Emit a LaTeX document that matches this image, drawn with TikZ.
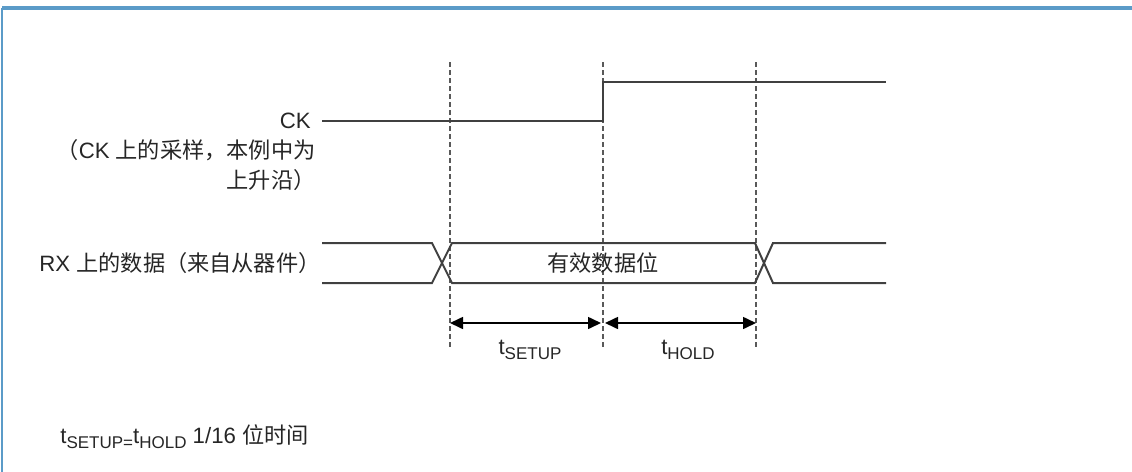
\documentclass[tikz,border=0pt]{standalone}
\usepackage{fontspec}
\setmainfont{Liberation Sans}
\newfontfamily\cjk{Noto Sans CJK SC}
\usetikzlibrary{arrows.meta,positioning,calc}
\definecolor{sigline}{HTML}{404040}
\definecolor{frameblue}{HTML}{5B9BC8}
\newcommand{\zh}[1]{{\cjk #1}}
\newcommand{\subtxt}[1]{\raisebox{-0.4ex}{\fontsize{8.5}{9}\selectfont #1}}

\begin{document}
\begin{tikzpicture}[
  x=0.5pt, y=-0.5pt,
  lbl/.style={inner sep=0pt, font=\fontsize{11.1}{15}\selectfont, text=black!85},
  sig/.style={draw=sigline, line width=1pt},
  guide/.style={draw=gray!70!black, line width=0.9pt, dash pattern=on 2.5pt off 1.5pt},
  dim/.style={{Triangle[length=6.5pt,width=6pt]}-{Triangle[length=6.5pt,width=6pt]}, draw=black, line width=0.8pt}
]
  \useasboundingbox (0,0) rectangle (1132,472);
  % frame
  \draw[frameblue, line width=1.6pt] (2,8) -- (1132,8);
  \draw[frameblue, line width=0.6pt] (2,8) -- (2,472);

  % guide lines
  \foreach \x in {450,603,756}
    \draw[guide] (\x,62) -- (\x,348);

  % CK
  \coordinate (ckstart) at (322,121);
  \coordinate (ckrise) at (603,121);
  \coordinate (ckend) at (886,82);
  \draw[sig] (ckstart) -- (ckrise) |- (ckend);
  \node[lbl, anchor=east] (cklbl) at (311,121) {CK};
  \node[lbl, anchor=north east, align=right] (ckinfo) at (316,139)
    {\zh{（}CK \zh{上的采样，本例中为}\\\zh{上升沿）}};

  % RX data
  \coordinate (rxtop) at (322,243);
  \coordinate (rxbot) at (322,283);
  \draw[sig] (rxtop) -- (432,243) -- (452,283) -- (755,283) -- (773,243) -- (886,243);
  \draw[sig] (rxbot) -- (432,283) -- (452,243) -- (755,243) -- (773,283) -- (886,283);
  \node[lbl, anchor=east] (rxlbl) at (321,263) {RX \zh{上的数据（来自从器件）}};
  \node[lbl] (valid) at (603,263) {\zh{有效数据位}};

  % setup / hold
  \coordinate (sua) at (450,323);
  \coordinate (sub) at (601,323);
  \coordinate (hda) at (605,323);
  \coordinate (hdb) at (756,323);
  \draw[dim] (sua) -- (sub);
  \draw[dim] (hda) -- (hdb);
  \node[lbl] (tsu) at (530,350) {t\subtxt{SETUP}};
  \node[lbl] (thd) at (688,350) {t\subtxt{HOLD}};

  % note
  \node[lbl, anchor=west] (note) at (60,437) {t\subtxt{SETUP=}t\subtxt{HOLD} 1/16 \zh{位时间}};
\end{tikzpicture}
\end{document}
